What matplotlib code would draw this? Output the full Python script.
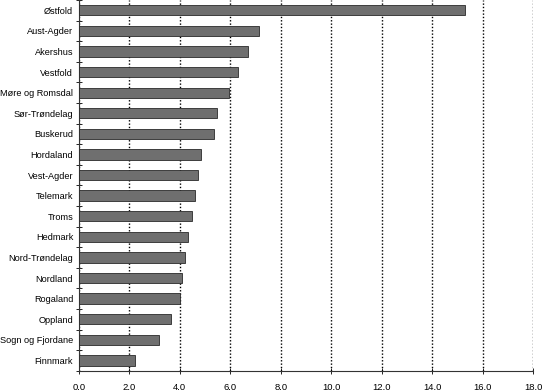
import numpy as np
import matplotlib
matplotlib.use("Agg")
import matplotlib.pyplot as plt
from matplotlib.ticker import FixedLocator, FuncFormatter

# fylker, sortert etter verdi
fylker = ['Østfold', 'Aust-Agder', 'Akershus', 'Vestfold', 'Møre og Romsdal',
          'Sør-Trøndelag', 'Buskerud', 'Hordaland', 'Vest-Agder', 'Telemark',
          'Troms', 'Hedmark', 'Nord-Trøndelag', 'Nordland', 'Rogaland',
          'Oppland', 'Sogn og Fjordane', 'Finnmark']
verdier = [15.29, 7.15, 6.69, 6.30, 5.94, 5.47, 5.35, 4.83, 4.71, 4.59,
           4.48, 4.32, 4.20, 4.08, 4.02, 3.64, 3.17, 2.22]
xticks = [0, 2, 4, 6, 8, 10, 12, 14, 16, 18]

plt.rcParams['font.family'] = ['Liberation Sans', 'DejaVu Sans']

fig = plt.figure(figsize=(5.44, 3.90), dpi=100)
ax = fig.add_axes([0.1447, 0.0495, 0.8356, 0.9505])

y = np.arange(len(fylker))
ax.barh(y, verdier, height=0.5, color='#6f6f6f', edgecolor='#2a2a2a',
        linewidth=0.6, zorder=3)

ax.set_xlim(0, 18)
ax.set_ylim(len(fylker) - 0.5, -0.5)

ax.set_xticks(xticks)
ax.xaxis.set_major_formatter(FuncFormatter(lambda v, p: f'{v:.1f}'.replace('.', ',')))
ax.set_yticks(y)
ax.set_yticklabels(fylker)
ax.yaxis.set_minor_locator(FixedLocator(np.arange(-0.5, len(fylker), 1.0)))

ax.tick_params(axis='y', which='major', length=0, pad=4, labelsize=6.6)
ax.tick_params(axis='y', which='minor', length=5, direction='inout', width=0.6)
ax.tick_params(axis='x', which='major', length=5, direction='inout', width=0.6,
               pad=6, labelsize=6.8)

ax.grid(axis='x', linestyle=(0, (1.0, 1.4)), color='black', linewidth=1.0, zorder=0)
ax.set_axisbelow(True)

for s in ['top', 'right']:
    ax.spines[s].set_visible(False)
for s in ['left', 'bottom']:
    ax.spines[s].set_linewidth(0.8)
    ax.spines[s].set_color('#333333')

fig.savefig('out.png', dpi=100)
